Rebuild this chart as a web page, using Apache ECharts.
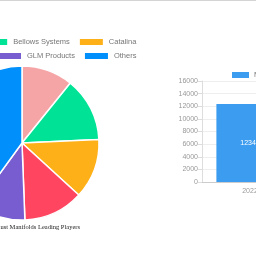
<!DOCTYPE html>
<html><head><meta charset="utf-8">
<script src="https://cdn.jsdelivr.net/npm/echarts@6/dist/echarts.min.js"></script>
<style>html,body{margin:0;padding:0;background:#fff;overflow:hidden;width:256px;height:256px}#c{width:300px;height:256px}</style>
</head><body><div id="c"></div>
<script>
const players = ['Barr Marine','Bellows Systems','Catalina','Sierra','GLM Products','Others'];
const shares = [10.8, 13.5, 12.5, 12.6, 10.6, 40.0];
const colors = ['#f6a5a7','#00e396','#feb019','#ff4560','#775dd0','#008ffb'];
const years = ['2022'];
const marketSize = [12345];
const yTicks = {min:0, max:16000, interval:2000};
const titleText = 'Exhaust Manifolds Leading Players';
const barName = 'Market Size';

const chart = echarts.init(document.getElementById('c'));
const legendCommon = {orient:'horizontal', itemWidth:25, itemHeight:8, itemGap:8, padding:0,
  textStyle:{fontSize:7.5, color:'#777'}, icon:'rect'};
chart.setOption({
  animation:false,
  color: colors,
  graphic:[
    {type:'rect', shape:{x:0,y:0,width:300,height:1}, style:{fill:'#d4d4d4'}},
    {type:'text', x:80, y:227, style:{text:titleText, textAlign:'right', textVerticalAlign:'middle',
      font:'6.5px "Liberation Serif", serif', fill:'#222'}}
  ],
  legend:[
    Object.assign({}, legendCommon, {data:players.slice(0,3), left:-96, top:37}),
    Object.assign({}, legendCommon, {data:players.slice(3,6), left:-63, top:51}),
    {data:[barName], left:232, top:71, padding:0, itemWidth:17, itemHeight:6, icon:'rect',
     textStyle:{fontSize:7.5, color:'#777'}}
  ],
  grid:{left:202, top:81, right:2, bottom:74},
  xAxis:{type:'category', data:years, axisLine:{lineStyle:{color:'#ccc'}}, axisTick:{show:false},
    axisLabel:{fontSize:7, color:'#999', margin:6}},
  yAxis:{type:'value', min:yTicks.min, max:yTicks.max, interval:yTicks.interval,
    axisLine:{show:true, lineStyle:{color:'#ddd'}}, axisTick:{show:true, length:4, lineStyle:{color:'#ddd'}},
    axisLabel:{fontSize:7, color:'#999', margin:4, formatter:v=>String(v)}, splitLine:{lineStyle:{color:'#eee'}}},
  series:[
    {type:'pie', center:[22,143], radius:[0,77], startAngle:90, clockwise:true,
     label:{show:false}, labelLine:{show:false},
     itemStyle:{borderColor:'#fff', borderWidth:1.5},
     data: players.map((n,i)=>({name:n, value:shares[i]}))},
    {type:'bar', name:barName, data:marketSize, barWidth:'70%', itemStyle:{color:'#3b9cf0'},
     label:{show:true, position:'inside', fontSize:7, color:'#fff'}}
  ]
});
</script></body></html>
